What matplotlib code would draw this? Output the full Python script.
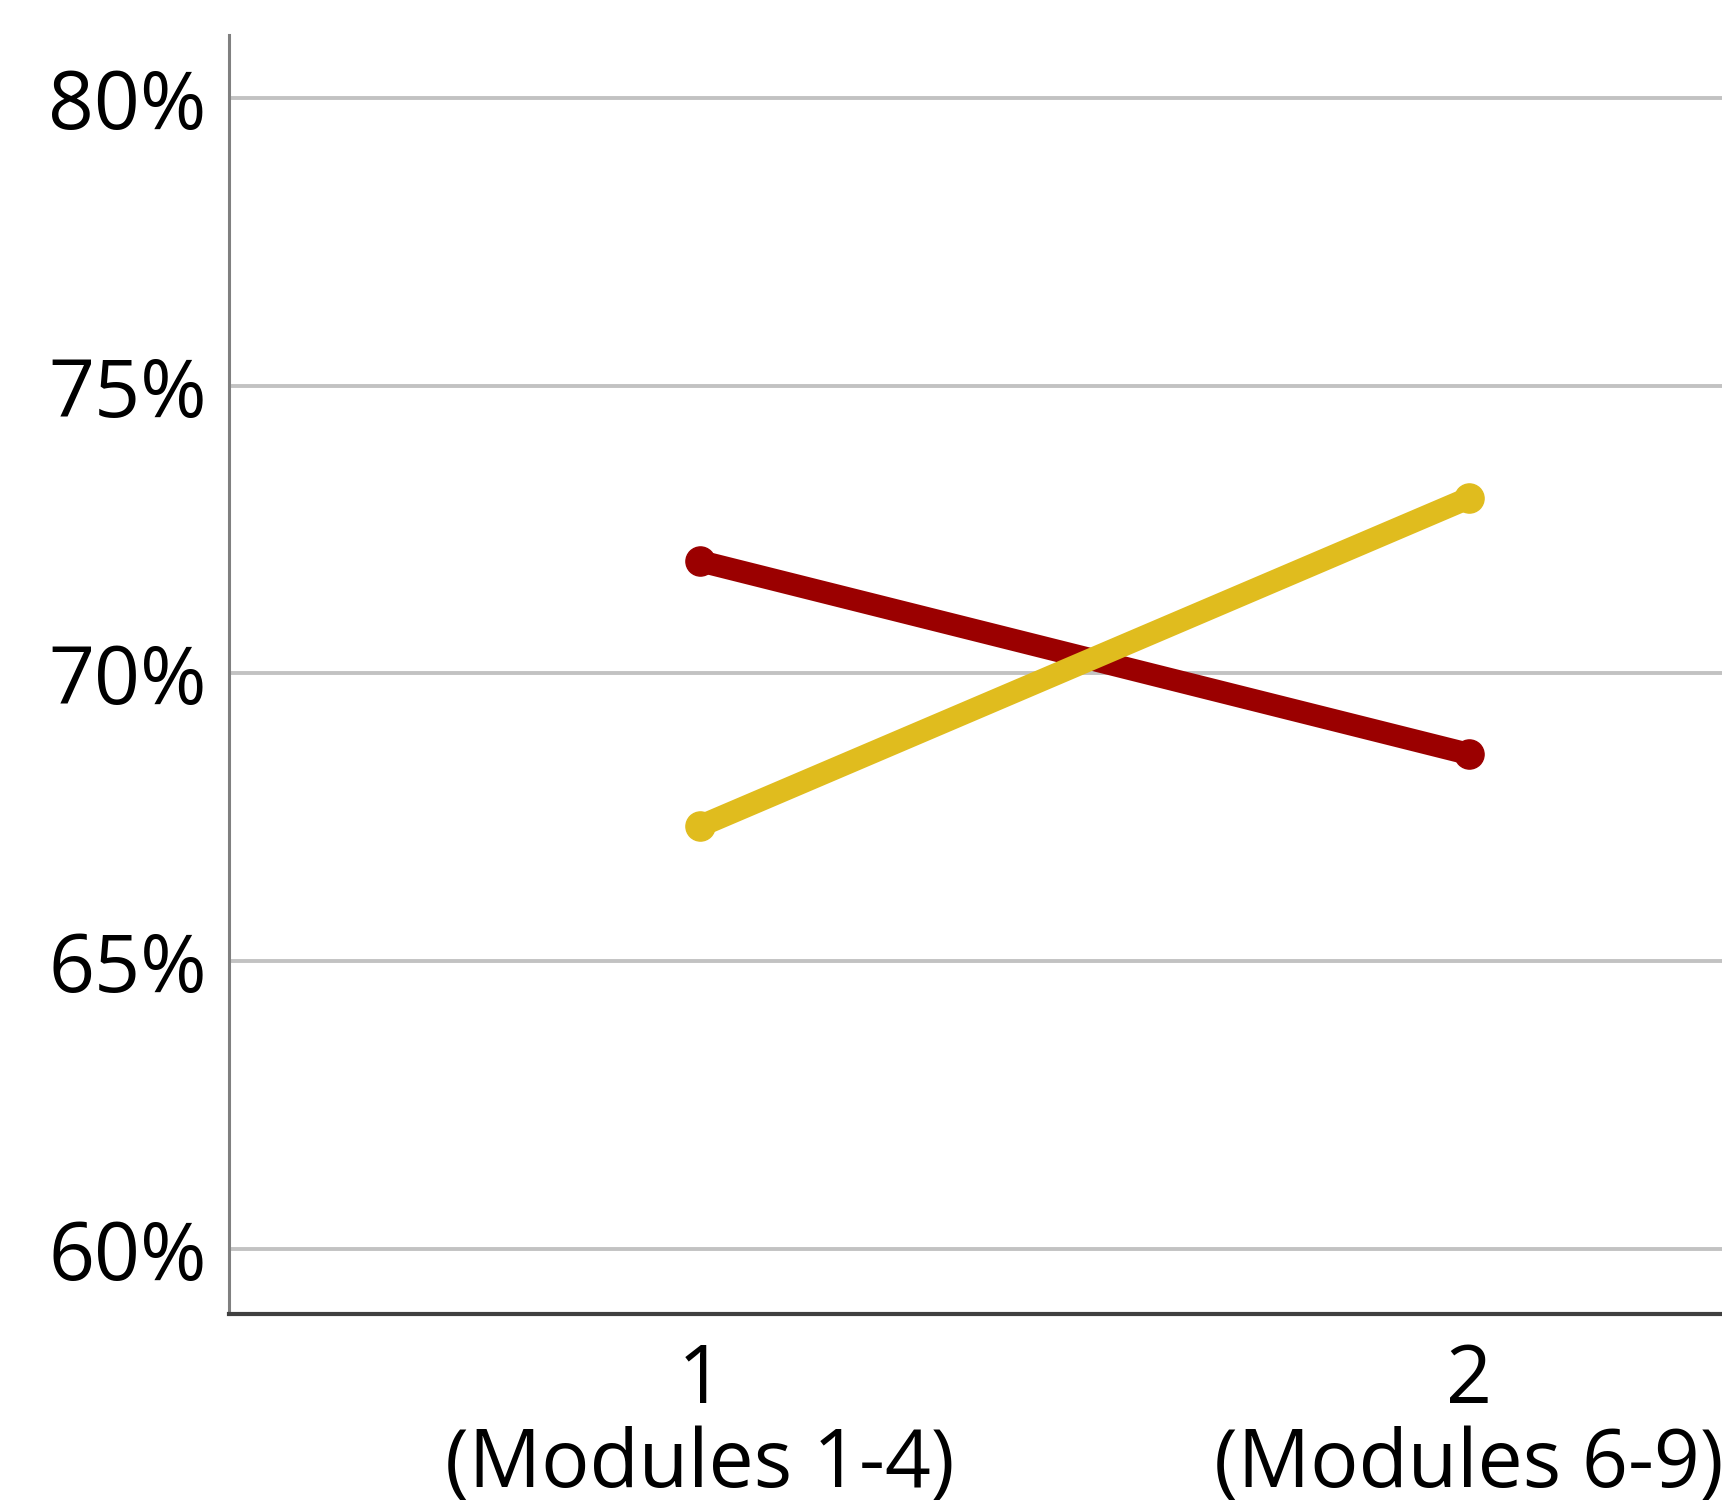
import numpy as np
import matplotlib
matplotlib.use("Agg")
import matplotlib.pyplot as plt
from matplotlib.ticker import PercentFormatter

# data
categories = [1, 2]
cat_labels = ["1\n(Modules 1-4)", "2\n(Modules 6-9)"]
series_red = [71.95, 68.6]
series_yellow = [67.35, 73.05]
y_ticks = [60, 65, 70, 75, 80]

plt.rcParams['font.family'] = ['Open Sans', 'DejaVu Sans']

fig = plt.figure(figsize=(17.22, 15.12), dpi=100)
ax = fig.add_axes([0.133, 0.131, 0.867, 0.846])

ax.plot(categories, series_red, color='#9b0000', lw=16, marker='o', ms=21,
        solid_capstyle='round', zorder=3)
ax.plot(categories, series_yellow, color='#e0bc1e', lw=16, marker='o', ms=21,
        solid_capstyle='round', zorder=4)

ax.set_xlim(0.387, 2.329)
ax.set_ylim(58.87, 81.1)

ax.set_yticks(y_ticks)
ax.yaxis.set_major_formatter(PercentFormatter(decimals=0))
ax.set_xticks(categories)
ax.set_xticklabels(cat_labels, linespacing=1.05)

ax.grid(axis='y', color='#c2c2c2', lw=2.8, zorder=0)
ax.set_axisbelow(True)

for s in ['top', 'right']:
    ax.spines[s].set_visible(False)
ax.spines['left'].set_color('#808080')
ax.spines['left'].set_linewidth(2.2)
ax.spines['bottom'].set_color('#404040')
ax.spines['bottom'].set_linewidth(3)

ax.tick_params(axis='both', length=0, labelsize=58, colors='black')
ax.tick_params(axis='y', pad=16)
ax.tick_params(axis='x', pad=20)

fig.savefig("out.png", dpi=100)
